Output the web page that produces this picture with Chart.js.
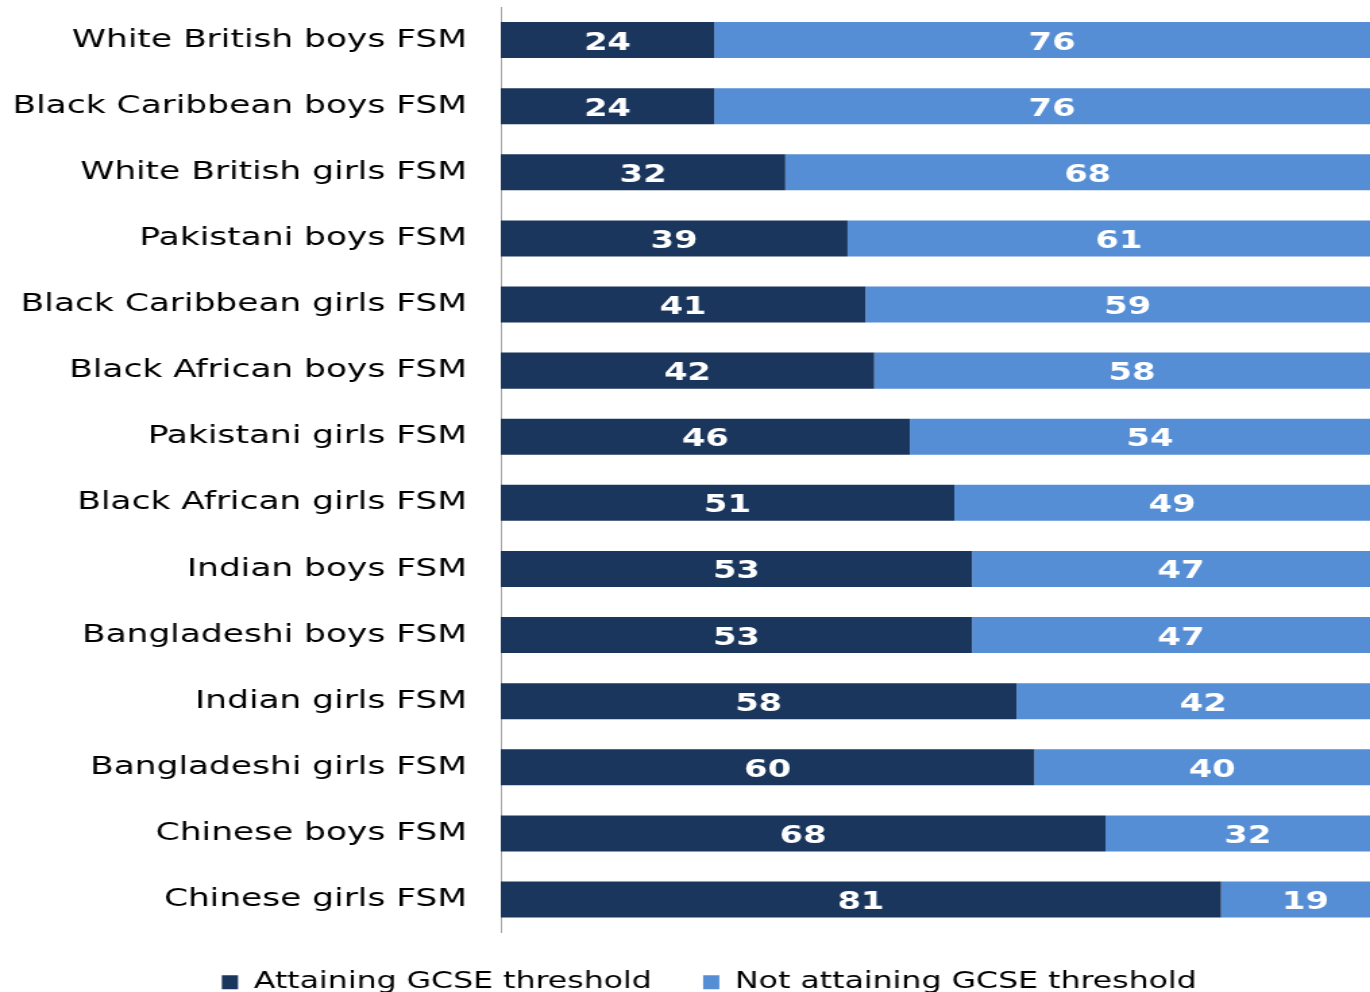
<!DOCTYPE html>
<html lang="en">
<head>
    <meta charset="UTF-8">
    <title>GCSE threshold by group</title>
    <script src="https://cdn.jsdelivr.net/npm/chart.js"></script>
    <style>
        html, body {
            margin: 0;
            padding: 0;
            background: white;
            overflow: hidden;
        }
        /* the reference is stretched sideways, so the canvas is drawn narrow and widened by css */
        #gcseChart {
            display: block;
            width: 1370px !important;
            height: 1010px !important;
        }
    </style>
</head>
<body>
    <canvas id="gcseChart" width="1015" height="1010"></canvas>
    <script>
        const categories = [
            'White British boys FSM',
            'Black Caribbean boys FSM',
            'White British girls FSM',
            'Pakistani boys FSM',
            'Black Caribbean girls FSM',
            'Black African boys FSM',
            'Pakistani girls FSM',
            'Black African girls FSM',
            'Indian boys FSM',
            'Bangladeshi boys FSM',
            'Indian girls FSM',
            'Bangladeshi girls FSM',
            'Chinese boys FSM',
            'Chinese girls FSM'
        ];
        const attaining = [24, 24, 32, 39, 41, 42, 46, 51, 53, 53, 58, 60, 68, 81];
        const notAttaining = [76, 76, 68, 61, 59, 58, 54, 49, 47, 47, 42, 40, 32, 19];
        const seriesNames = ['Attaining GCSE threshold', 'Not attaining GCSE threshold'];

        const fontFamily = "'DejaVu Sans', Verdana, sans-serif";

        // white value in the middle of each segment
        const barValues = {
            id: 'barValues',
            afterDatasetsDraw(chart) {
                const ctx = chart.ctx;
                ctx.save();
                ctx.fillStyle = '#ffffff';
                ctx.font = 'bold 25px ' + fontFamily;
                ctx.textAlign = 'center';
                ctx.textBaseline = 'middle';
                chart.data.datasets.forEach((ds, i) => {
                    const meta = chart.getDatasetMeta(i);
                    meta.data.forEach((bar, j) => {
                        const x = (bar.x + bar.base) / 2;
                        ctx.fillText(ds.data[j], x, bar.y + 3);
                    });
                });
                ctx.restore();
            }
        };

        // legend in the reference sits a bit right of the page centre
        const legendShift = {
            id: 'legendShift',
            afterLayout(chart) {
                chart.legend.left += 36;
            }
        };

        new Chart(document.getElementById('gcseChart'), {
            type: 'bar',
            data: {
                labels: categories,
                datasets: [{
                    label: seriesNames[0],
                    data: attaining,
                    backgroundColor: '#1b365d',
                    barPercentage: 0.545,
                    categoryPercentage: 1
                }, {
                    label: seriesNames[1],
                    data: notAttaining,
                    backgroundColor: '#558ed5',
                    barPercentage: 0.545,
                    categoryPercentage: 1
                }]
            },
            options: {
                indexAxis: 'y',
                responsive: false,
                animation: false,
                devicePixelRatio: 1,
                layout: {
                    padding: { left: 0, right: 0, top: 7, bottom: 6 }
                },
                scales: {
                    x: {
                        stacked: true,
                        min: 0,
                        // the picture is cropped a little before the 100% end
                        max: 97.75,
                        display: false
                    },
                    y: {
                        stacked: true,
                        grid: { display: false },
                        border: { display: true, color: '#a6a6a6', width: 1 },
                        ticks: {
                            color: '#000000',
                            padding: 17,
                            font: { family: fontFamily, size: 25.5 }
                        },
                        afterFit(scale) {
                            scale.width = 371;
                            scale.paddingTop = 0;
                            scale.paddingBottom = 0;
                        }
                    }
                },
                plugins: {
                    legend: {
                        position: 'bottom',
                        labels: {
                            color: '#000000',
                            boxWidth: 12,
                            boxHeight: 14,
                            padding: 38,
                            font: { family: fontFamily, size: 23.4 }
                        }
                    },
                    tooltip: { enabled: false }
                }
            },
            plugins: [barValues, legendShift]
        });
    </script>
</body>
</html>
